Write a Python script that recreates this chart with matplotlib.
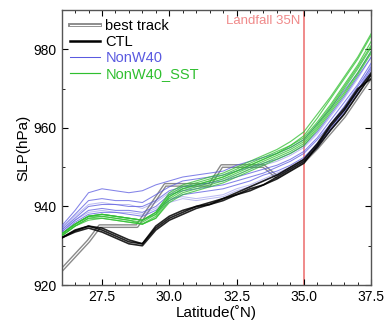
import matplotlib
matplotlib.use("Agg")
import matplotlib.pyplot as plt
import matplotlib.patheffects as pe
from matplotlib.ticker import MultipleLocator

plt.rcParams['font.family'] = ['Liberation Sans', 'DejaVu Sans']

lat = [26.0, 26.5, 27.0, 27.5, 28.0, 28.5, 29.0, 29.5, 30.0, 30.5, 31.0, 31.5,
       32.0, 32.5, 33.0, 33.5, 34.0, 34.5, 35.0, 35.5, 36.0, 36.5, 37.0, 37.5]

best_lat = [26.0, 26.5, 27.0, 27.42, 28.8, 29.85, 31.5, 31.95, 33.5, 34.0, 34.5,
            35.0, 35.5, 36.0, 36.5, 37.0, 37.5]
best_slp = [923.8, 927.5, 931.2, 935.0, 935.0, 945.5, 945.5, 950.3, 950.3, 947.5,
            949.5, 951.5, 955.0, 959.0, 963.0, 968.0, 973.0]

ctl = [
    [932, 933.8, 935, 934, 932.5, 931, 930.5, 934.5, 937, 938.5, 940, 940.5, 942, 943, 944.5, 945.5, 947.5, 949.5, 951.5, 955, 959.5, 963.5, 968.5, 973.5],
    [932, 933.5, 934.5, 933.5, 932, 930.5, 930, 934, 936.5, 938, 939.5, 940.5, 941.5, 943, 944, 945.5, 947, 949, 951, 955.5, 960.5, 964.5, 969.5, 974],
    [932, 934, 935, 934.5, 933, 931.5, 930.5, 935, 937.5, 939, 940, 941, 942, 943.5, 945, 946.5, 948, 950, 952, 956, 961, 965, 970, 972.5],
]

nonw40 = [
    [935, 939, 943.5, 944.5, 944, 943.5, 944, 945.5, 946.5, 947.5, 948, 948.5, 949, 950.5, 951.5, 952.5, 953.5, 955, 957, 961, 965, 969.5, 974, 979.5],
    [934.5, 938, 941.5, 942, 941.5, 941.5, 941, 943, 945, 946.5, 947, 947.5, 948, 949, 950, 951, 952, 953.5, 955.5, 959, 963.5, 968, 973, 978],
    [934, 937, 940, 940.5, 940.5, 940, 940, 941.5, 944, 945, 945.5, 946, 946.5, 947.5, 948.5, 949.5, 950.5, 952, 954, 957.5, 962, 966.5, 971, 976.5],
    [933.5, 936.5, 939, 939.5, 939, 939, 938.5, 940, 943, 944, 944.5, 945, 945.5, 946.5, 947.5, 948.5, 950, 951.5, 953.5, 957, 961, 965.5, 970.5, 975.5],
    [933, 936, 938, 938.5, 938.5, 938, 937.5, 939, 941.5, 943, 943.5, 944, 944.5, 945.5, 946.5, 948, 949, 950.5, 952.5, 956, 960, 964.5, 969.5, 975],
    [933.5, 936.5, 938.5, 939, 938.5, 938.5, 938, 939.5, 942, 942.5, 942, 942.5, 943, 944.5, 945.5, 947, 948.5, 950, 952, 955.5, 959.5, 964, 969, 974.5],
    [933, 935.5, 937.5, 938, 937.5, 937, 936.5, 938.5, 941, 942, 941.5, 942, 942.5, 944, 945, 946.5, 948, 949.5, 951.5, 955, 959.5, 964, 969.5, 976],
    [934, 937.5, 940.5, 941, 940.5, 940.5, 939.5, 941, 943.5, 944.5, 945, 946, 947, 948, 949.5, 950.5, 951.5, 953, 955, 958.5, 963, 967.5, 972.5, 978],
]

nonw40_sst = [
    [933, 935.5, 937.5, 938, 937.5, 937, 936.5, 938.5, 943, 945, 946, 947, 948, 949.5, 951, 952.5, 954, 955.5, 957.5, 961.5, 966, 971, 976, 982],
    [933, 935.5, 937.5, 937.5, 937, 936.5, 936, 938, 942.5, 944.5, 945.5, 946.5, 947.5, 949, 950.5, 952, 953.5, 955.5, 958, 962.5, 967.5, 972.5, 977.5, 983.5],
    [932.5, 935, 937, 937.5, 937, 936.5, 935.5, 937.5, 942, 944, 945, 946, 947, 948.5, 950, 951.5, 953, 954.5, 956.5, 960.5, 965, 970, 975, 980.5],
    [932.5, 935, 937, 937, 936.5, 936, 935.5, 937, 941.5, 943.5, 944.5, 945.5, 946.5, 948, 949.5, 951, 952.5, 954, 956, 960, 964.5, 969, 974, 979.5],
    [933, 935.5, 937.5, 938, 937.5, 937, 936.5, 938.5, 943.5, 945.5, 946.5, 947.5, 948.5, 950, 951.5, 953, 954.5, 956.5, 959, 963.5, 968, 973, 978, 984],
    [932.5, 935, 936.5, 937, 936.5, 936, 935.5, 937, 941, 943, 944, 945, 946, 947.5, 949, 950.5, 952, 953.5, 955.5, 959.5, 964, 968.5, 973.5, 979],
    [933, 935.5, 937.5, 938, 937.5, 937, 936.5, 938, 942.5, 944.5, 945.5, 946.5, 947.5, 949, 950.5, 952, 953.5, 955, 957, 961, 965.5, 970.5, 975.5, 981],
]

landfall = 35.0

blue = '#5a5ae0'
green = '#2fbf2f'
pink = '#f08a8a'

fig = plt.figure(figsize=(3.85, 3.25), dpi=100)
ax = fig.add_axes([0.160, 0.123, 0.804, 0.846])

ax.axvline(landfall, color=pink, lw=1.4, zorder=1)
ax.text(landfall - 0.12, 988.8, 'Landfall 35N', color=pink, fontsize=9.5,
        ha='right', va='top', zorder=1)

# best track
ax.plot(best_lat, best_slp, color='white', lw=0.8, zorder=2,
        path_effects=[pe.Stroke(linewidth=2.8, foreground='#8a8a8a'), pe.Normal()],
        label='best track')

for i, m in enumerate(nonw40):
    a = 0.75 if i < 5 else 0.4
    ax.plot(lat, m, color=blue, lw=0.75, alpha=a, zorder=3,
            label='NonW40' if i == 0 else None)
for i, m in enumerate(nonw40_sst):
    ax.plot(lat, m, color=green, lw=0.85, alpha=0.75, zorder=4,
            label='NonW40_SST' if i == 0 else None)
for i, m in enumerate(ctl):
    ax.plot(lat, m, color='black', lw=1.2, alpha=0.85, zorder=5,
            label='CTL' if i == 0 else None)

ax.set_xlim(26.0, 37.5)
ax.set_ylim(920, 990)
ax.xaxis.set_major_locator(MultipleLocator(2.5))
ax.xaxis.set_minor_locator(MultipleLocator(0.5))
ax.yaxis.set_major_locator(MultipleLocator(20))
ax.yaxis.set_minor_locator(MultipleLocator(10))
ax.set_xticks([27.5, 30.0, 32.5, 35.0, 37.5])
ax.set_xticklabels(['27.5', '30.0', '32.5', '35.0', '37.5'])
ax.tick_params(which='both', direction='in', top=True, right=True, labelsize=10)
ax.tick_params(which='major', length=4, width=0.8)
ax.tick_params(which='minor', length=2.5, width=0.6)
for s in ax.spines.values():
    s.set_color('#555555')
    s.set_linewidth(1.0)

ax.set_xlabel('Latitude(\u02daN)', fontsize=11, labelpad=1)
ax.set_ylabel('SLP(hPa)', fontsize=11, labelpad=2)

handles, labels = ax.get_legend_handles_labels()
order = ['best track', 'CTL', 'NonW40', 'NonW40_SST']
hmap = dict(zip(labels, handles))
leg = ax.legend([hmap[k] for k in order], order, loc='upper left', frameon=False,
                fontsize=10.5, handlelength=2.0, handletextpad=0.4,
                labelspacing=0.15, borderaxespad=0.2)
cols = {'best track': 'black', 'CTL': 'black', 'NonW40': blue, 'NonW40_SST': green}
for t in leg.get_texts():
    t.set_color(cols[t.get_text()])
for lh in leg.get_lines():
    lh.set_alpha(1.0)
leg.get_lines()[1].set_linewidth(1.8)

fig.savefig('out.png', dpi=100)
